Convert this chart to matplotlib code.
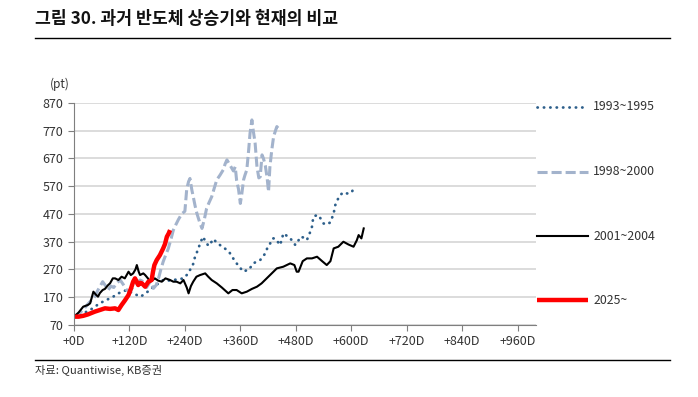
import matplotlib
matplotlib.use("Agg")
import matplotlib.pyplot as plt
from matplotlib.lines import Line2D

plt.rcParams['font.family'] = ['Noto Sans CJK KR', 'DejaVu Sans']

# 1993~1995 (dotted)
days_93 = [0, 10, 20, 35, 45, 56, 67, 78, 88, 96,
           105, 114, 121, 128, 136, 143, 150, 154, 165, 172,
           183, 193, 204, 215, 226, 237, 244, 251, 258, 262,
           268, 273, 279, 285, 291, 297, 302, 309, 316, 323,
           331, 337, 342, 347, 352, 360, 367, 372, 378, 383,
           388, 395, 403, 408, 414, 419, 424, 430, 435, 440,
           446, 450, 453, 460, 468, 474, 479, 485, 490, 497,
           504, 510, 515, 518, 523, 529, 535, 540, 546, 551,
           555, 558, 562, 565, 570, 576, 583, 591, 596, 601,
           605]
vals_93 = [100, 105, 112, 124, 136, 148, 158, 166, 175, 184,
           190, 196, 190, 184, 178, 172, 178, 184, 196, 208,
           220, 232, 230, 232, 235, 238, 250, 268, 290, 316,
           340, 364, 388, 370, 355, 368, 380, 366, 358, 350,
           340, 330, 316, 304, 292, 275, 262, 266, 268, 280,
           292, 298, 304, 315, 328, 350, 362, 382, 382, 372,
           358, 380, 400, 392, 382, 370, 358, 372, 388, 385,
           376, 400, 424, 460, 464, 466, 450, 436, 432, 436,
           440, 454, 472, 500, 520, 538, 548, 544, 544, 548,
           562]

# 1998~2000 (dashed)
days_98 = [0, 10, 20, 30, 38, 45, 50, 56, 62, 68,
           74, 80, 86, 92, 100, 107, 114, 121, 128, 135,
           143, 150, 157, 165, 172, 178, 183, 188, 193, 198,
           204, 210, 215, 220, 226, 233, 240, 244, 248, 251,
           255, 258, 262, 266, 272, 277, 282, 287, 292, 298,
           303, 309, 316, 323, 327, 331, 338, 345, 349, 352,
           356, 360, 363, 367, 370, 374, 378, 381, 385, 388,
           392, 396, 400, 403, 407, 410, 414, 418, 421, 424,
           428, 432, 436, 439, 442]
vals_98 = [100, 110, 125, 145, 160, 172, 190, 208, 226, 212,
           196, 210, 205, 220, 232, 215, 196, 190, 208, 218,
           232, 226, 205, 226, 202, 214, 238, 270, 298, 320,
           345, 380, 412, 430, 450, 470, 480, 560, 587, 598,
           557, 533, 500, 472, 440, 418, 450, 490, 510, 532,
           560, 593, 610, 629, 650, 665, 645, 625, 640, 590,
           560, 508, 540, 593, 610, 629, 700, 761, 809, 770,
           725, 640, 600, 604, 683, 670, 645, 600, 550, 640,
           700, 749, 770, 785, 779]

# 2001~2004 (solid black)
days_01 = [0, 10, 20, 30, 35, 42, 47, 52, 56, 62,
           67, 74, 78, 84, 89, 96, 103, 110, 118, 123,
           128, 133, 136, 140, 143, 150, 154, 160, 165, 170,
           175, 182, 190, 198, 208, 215, 222, 230, 237, 244,
           248, 253, 258, 265, 273, 284, 290, 298, 309, 320,
           334, 343, 352, 363, 374, 385, 396, 406, 417, 428,
           439, 453, 468, 477, 482, 486, 495, 504, 515, 526,
           537, 547, 555, 562, 572, 583, 594, 605, 612, 616,
           622, 627]
vals_01 = [100, 115, 136, 142, 148, 190, 180, 172, 185, 196,
           200, 214, 220, 238, 238, 232, 244, 238, 262, 250,
           256, 270, 286, 262, 250, 256, 250, 238, 226, 232,
           238, 230, 226, 238, 232, 226, 226, 220, 232, 205,
           184, 210, 226, 244, 250, 256, 245, 232, 220, 205,
           184, 196, 196, 184, 190, 200, 208, 220, 238, 256,
           274, 280, 292, 286, 262, 262, 300, 310, 310, 316,
           300, 286, 300, 346, 352, 370, 360, 352, 375, 394,
           382, 418]

# 2025~ (thick red)
days_25 = [0, 10, 20, 30, 45, 56, 67, 78, 89, 96,
           103, 110, 118, 124, 128, 132, 136, 139, 143, 147,
           154, 161, 168, 171, 174, 179, 186, 193, 197, 201,
           205, 208]
vals_25 = [100, 100, 103, 108, 118, 124, 130, 128, 130, 124,
           142, 158, 178, 205, 226, 238, 225, 214, 222, 220,
           208, 226, 232, 262, 286, 304, 322, 346, 362, 388,
           400, 412]

labels = ['1993~1995', '1998~2000', '2001~2004', '2025~']
yticks = [70, 170, 270, 370, 470, 570, 670, 770, 870]
xticks = [0, 120, 240, 360, 480, 600, 720, 840, 960]

fig = plt.figure(figsize=(6.98, 3.97), dpi=100)
ax = fig.add_axes([0.106, 0.1814, 0.662, 0.5592])

styles = [
    dict(color='#2d5f8b', lw=2.0, ls=(0, (0.1, 2.2)), dash_capstyle='round'),
    dict(color='#a3b3cc', lw=2.2, ls=(0, (3.3, 1.3)), dash_capstyle='butt'),
    dict(color='#000000', lw=1.5, ls='-'),
    dict(color='#ff0000', lw=3.2, ls='-', solid_capstyle='butt'),
]
series = [(days_93, vals_93), (days_98, vals_98), (days_01, vals_01), (days_25, vals_25)]
for (d, v), st in zip(series, styles):
    ax.plot(d, v, **st)

ax.set_xlim(0, 1000)
ax.set_ylim(70, 870)
ax.set_yticks(yticks)
ax.set_xticks(xticks)
ax.set_xticklabels(['+%dD' % t for t in xticks])
ax.grid(axis='y', color='#d9d9d9', lw=1.3)
ax.set_axisbelow(True)
for s in ['top', 'right']:
    ax.spines[s].set_visible(False)
ax.spines['left'].set_color('#7f7f7f')
ax.spines['bottom'].set_color('#7f7f7f')
ax.tick_params(axis='both', colors='#7f7f7f', labelcolor='#333333', labelsize=9, length=4, width=0.8)

# legend drawn at right
ys = [0.7305, 0.5668, 0.4055, 0.2443]
for y, lab, st in zip(ys, labels, styles):
    fig.add_artist(Line2D([0.770, 0.842], [y, y], transform=fig.transFigure, **st))
    fig.text(0.850, y, lab, va='center', ha='left', fontsize=8.9, color='#333333')

fig.text(0.050, 0.953, '그림 30. 과거 반도체 상승기와 현재의 비교', fontsize=12.4,
         fontweight='bold', va='center', ha='left', color='#111111')
fig.add_artist(Line2D([0.050, 0.960], [0.904, 0.904], transform=fig.transFigure, color='black', lw=1))
fig.add_artist(Line2D([0.050, 0.960], [0.0932, 0.0932], transform=fig.transFigure, color='black', lw=1))
fig.text(0.050, 0.068, '자료: Quantiwise, KB증권', fontsize=8.1, va='center', ha='left', color='#333333')
fig.text(0.086, 0.788, '(pt)', fontsize=8.6, va='center', ha='center', color='#333333')

fig.savefig('out.png', dpi=100)
